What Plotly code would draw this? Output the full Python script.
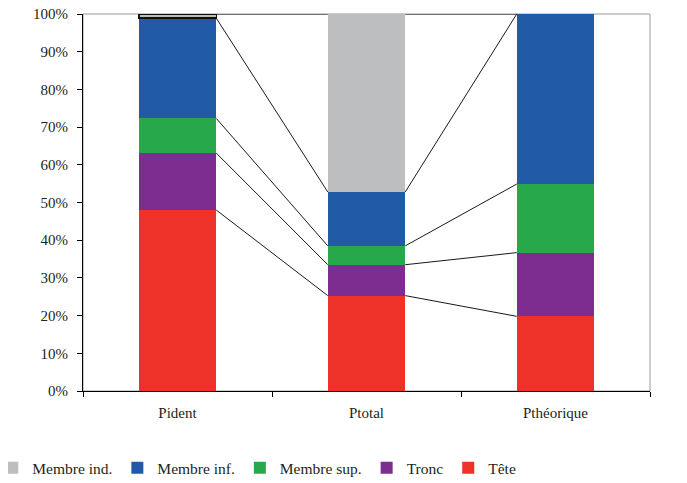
import plotly.graph_objects as go

categories = ["Pident", "Ptotal", "Pthéorique"]
series_names = ["Tête", "Tronc", "Membre sup.", "Membre inf.", "Membre ind."]
tete = [48.0, 25.3, 19.8]
tronc = [15.1, 8.2, 16.9]
membre_sup = [9.2, 5.0, 18.2]
membre_inf = [26.6, 14.3, 45.1]
membre_ind = [1.1, 47.2, 0.0]
y_ticks = [0, 10, 20, 30, 40, 50, 60, 70, 80, 90, 100]
y_tick_labels = [f"{v}%" for v in y_ticks]

colors = ["#EE3129", "#7D2C8F", "#27A84A", "#215BA8", "#BDBEC0"]
series = [tete, tronc, membre_sup, membre_inf, membre_ind]
FONT = "Liberation Serif"
TXT = "#231F20"
bar_w = 0.41
OFF = 8  # page body margin offset

fig = go.Figure()
for name, vals, col in zip(series_names, series, colors):
    if name == "Membre ind.":
        order = [1, 2, 0]
        xs = [categories[i] for i in order]
        ys = [vals[i] for i in order]
        lw = [0, 0, 1.5]
        lc = ["rgba(0,0,0,0)", "rgba(0,0,0,0)", "#111111"]
    else:
        xs, ys = categories, vals
        lw = 0
        lc = "rgba(0,0,0,0)"
    fig.add_trace(go.Bar(x=xs, y=ys, name=name, width=bar_w,
                         marker=dict(color=col, line=dict(width=lw, color=lc))))

cum = []
run = [0, 0, 0]
for vals in series:
    run = [r + v for r, v in zip(run, vals)]
    cum.append(list(run))
shapes = [dict(type="rect", xref="paper", yref="paper", x0=0, x1=1, y0=0, y1=1,
               line=dict(color="#9A9A9A", width=1), layer="below")]
for level in cum:
    for i in range(len(categories) - 1):
        shapes.append(dict(type="line", xref="x", yref="y",
                           x0=i + bar_w / 2, x1=i + 1 - bar_w / 2,
                           y0=min(level[i], 100), y1=min(level[i + 1], 100),
                           line=dict(color="#1a1a1a", width=1), layer="above"))

boundaries = [i - 0.5 for i in range(len(categories) + 1)]

fig.update_layout(
    barmode="stack",
    width=687, height=483,
    margin=dict(l=83 - OFF, r=37 + OFF, t=14 - OFF, b=92 + OFF, autoexpand=False),
    plot_bgcolor="white", paper_bgcolor="white",
    font=dict(family=FONT, size=15, color=TXT),
    shapes=shapes,
    showlegend=True,
    legend=dict(orientation="h", traceorder="reversed", xref="paper", yref="paper",
                x=-0.16, y=-0.205, xanchor="left", yanchor="middle",
                font=dict(family=FONT, size=15.5, color=TXT)),
    xaxis=dict(type="category", categoryorder="array", categoryarray=categories,
               range=[-0.5, 2.5], tickson="boundaries", ticks="outside", ticklen=5,
               tickcolor="black", showline=True, linecolor="black", linewidth=1,
               showgrid=False, ticklabelstandoff=8, automargin=False,
               tickfont=dict(family=FONT, size=15, color=TXT)),
    yaxis=dict(range=[0, 100], tickvals=y_ticks, ticktext=y_tick_labels, ticks="outside",
               ticklen=5, tickcolor="black", showline=True, linecolor="black", linewidth=1,
               showgrid=False, zeroline=False, ticklabelstandoff=6, automargin=False,
               ticklabeloverflow="allow",
               tickfont=dict(family=FONT, size=15, color=TXT)),
    xaxis2=dict(type="linear", range=[-0.5, 2.5], tickvals=boundaries, ticks="inside",
                ticklen=4, tickcolor="black", showticklabels=False, showline=False,
                showgrid=False, zeroline=False, overlaying="x", anchor="y", side="bottom"),
    yaxis2=dict(type="linear", range=[0, 100], tickvals=y_ticks, ticks="inside",
                ticklen=4, tickcolor="black", showticklabels=False, showline=False,
                showgrid=False, zeroline=False, overlaying="y", anchor="x", side="left"),
)

fig.write_html("out.html")
